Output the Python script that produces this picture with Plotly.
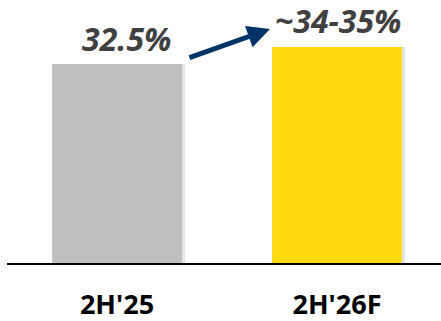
import plotly.graph_objects as go

categories = ["2H'25", "2H'26F"]
values = [32.5, 34.5]
value_labels = ["32.5%", "~34-35%"]
bar_colors = ["#BFBFBF", "#FFD90F"]

FONT = "Open Sans"
y0, y1 = 9.0, 40.06

fig = go.Figure()
# soft shadow behind bars
fig.add_trace(go.Bar(x=categories, y=[v - y0 for v in values], base=y0,
                     marker=dict(color="rgba(0,0,0,0.10)", line_width=0),
                     width=0.59, offset=-0.28, hoverinfo="skip", showlegend=False))
fig.add_trace(go.Bar(x=categories, y=[v - y0 for v in values], base=y0,
                     marker=dict(color=bar_colors, line_width=0),
                     width=0.59, offset=-0.295, showlegend=False))

xshifts = [9, 1]
yshifts = [2, 3]
for i, (c, v, t) in enumerate(zip(categories, values, value_labels)):
    fig.add_annotation(x=i, y=v, text=f"<b><i>{t}</i></b>", showarrow=False,
                       xanchor="center", yanchor="bottom", xshift=xshifts[i], yshift=yshifts[i],
                       font=dict(family=FONT, size=32, color="#404040"))

# growth arrow
fig.add_annotation(x=0.6955, y=values[1] + 2.13, ax=0.3227, ay=values[0] + 0.7,
                   xref="x", yref="y", axref="x", ayref="y", text="",
                   showarrow=True, arrowhead=2, arrowsize=0.9, arrowwidth=5,
                   arrowcolor="#003366", standoff=0, startstandoff=0)

fig.update_layout(
    width=441, height=321, margin=dict(l=7, r=0, t=0, b=58, autoexpand=False),
    paper_bgcolor="white", plot_bgcolor="white", barmode="overlay",
    xaxis=dict(type="category", range=[-0.5, 1.4727], showline=True, linecolor="black",
               linewidth=1.5, showgrid=False, ticks="", ticklabelstandoff=17, automargin=False,
               tickfont=dict(family=FONT, size=27, color="black")),
    yaxis=dict(range=[y0, y1], visible=False, showgrid=False, automargin=False),
)
fig.update_xaxes(tickvals=categories, ticktext=[f"<b>{c}</b>" for c in categories])
fig.write_html("out.html")
